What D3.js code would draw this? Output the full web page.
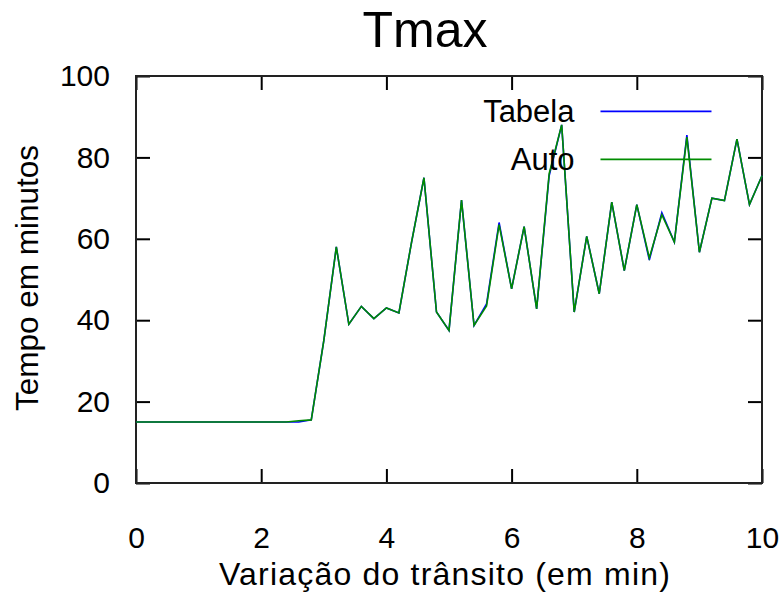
<!DOCTYPE html>
<html>
<head>
<meta charset="utf-8">
<script src="https://cdn.jsdelivr.net/npm/d3@7"></script>
<style>
  body { margin: 0; background: #fff; }
  text { font-family: "Liberation Sans", Arial, sans-serif; fill: #000; }
</style>
</head>
<body>
<div id="chart"></div>
<script>
// x positions (variação do trânsito, em min)
var xs = [0, 0.2, 0.4, 0.6, 0.8, 1.0, 1.2, 1.4, 1.6, 1.8, 2.0, 2.2, 2.4, 2.6, 2.8, 3.0,
          3.2, 3.4, 3.6, 3.8, 4.0, 4.2, 4.4, 4.6, 4.8, 5.0, 5.2, 5.4, 5.6, 5.8, 6.0,
          6.2, 6.4, 6.6, 6.8, 7.0, 7.2, 7.4, 7.6, 7.8, 8.0, 8.2, 8.4, 8.6, 8.8, 9.0,
          9.2, 9.4, 9.6, 9.8, 10.0];

var tabela = [15, 15, 15, 15, 15, 15, 15, 15, 15, 15, 15, 15, 15, 15, 15.5, 35,
              58, 39, 43.4, 40.4, 43, 41.8, 59, 75, 42, 37.5, 69.5, 38.7, 44, 64, 47.7,
              63, 42.8, 75.5, 88, 42, 60.6, 46.5, 69, 52.2, 68.4, 54.8, 66.4, 59.2, 85.5, 56.7,
              70, 69.4, 84.5, 68.4, 75.5];

var auto = [15, 15, 15, 15, 15, 15, 15, 15, 15, 15, 15, 15, 15, 15.3, 15.5, 35,
            58, 39, 43.4, 40.4, 43, 41.8, 59, 75, 42, 37.5, 69.5, 38.7, 43.5, 63.5, 47.7,
            63, 42.8, 76, 88, 42, 60.6, 46.5, 69, 52.2, 68.4, 55.3, 65.9, 59.2, 85, 56.7,
            70, 69.4, 84.5, 68.4, 75.5];

var xTicks = [0, 2, 4, 6, 8, 10];
var yTicks = [0, 20, 40, 60, 80, 100];

var series = [
  {name: "Tabela", values: tabela, color: "#0000ff"},
  {name: "Auto", values: auto, color: "#008c00"}
];

var W = 782, H = 597;
var margin = {top: 76, right: 20, bottom: 114, left: 136};
var width = W - margin.left - margin.right;
var height = H - margin.top - margin.bottom;

var svg = d3.select("#chart").append("svg")
  .attr("width", W)
  .attr("height", H);

var g = svg.append("g")
  .attr("transform", `translate(${margin.left}, ${margin.top})`);

var x = d3.scaleLinear().domain([0, 10]).range([0, width]);
var y = d3.scaleLinear().domain([0, 100]).range([height, 0]);

// ticks pointing inwards on all four sides
function styleAxis(sel) {
  sel.select(".domain").remove();
  sel.selectAll(".tick line").attr("stroke", "#000").attr("stroke-width", 2);
  sel.selectAll("text").style("font-size", "30px").attr("fill", "#000");
}

g.append("g")
  .attr("transform", `translate(0, ${height})`)
  .call(d3.axisBottom(x).tickValues(xTicks).tickSize(-14).tickPadding(44).tickFormat(d3.format("d")))
  .call(styleAxis);

g.append("g")
  .call(d3.axisTop(x).tickValues(xTicks).tickSize(-14).tickFormat(""))
  .call(styleAxis);

g.append("g")
  .call(d3.axisLeft(y).tickValues(yTicks).tickSize(-14).tickPadding(26).tickFormat(d3.format("d")))
  .call(styleAxis);

g.append("g")
  .attr("transform", `translate(${width}, 0)`)
  .call(d3.axisRight(y).tickValues(yTicks).tickSize(-14).tickFormat(""))
  .call(styleAxis);

// frame
g.append("rect")
  .attr("width", width)
  .attr("height", height)
  .attr("fill", "none")
  .attr("stroke", "#222")
  .attr("stroke-width", 2);

// lines
var line = d3.line()
  .x((d, i) => x(xs[i]))
  .y(d => y(d));

g.selectAll(".series")
  .data(series)
  .join("path")
  .attr("class", "series")
  .attr("fill", "none")
  .attr("stroke", d => d.color)
  .attr("stroke-width", 1.6)
  .attr("d", d => line(d.values));

// legend
var legend = g.append("g")
  .attr("transform", `translate(${x(7.42)}, ${y(91.3)})`);

var item = legend.selectAll("g")
  .data(series)
  .join("g")
  .attr("transform", (d, i) => `translate(0, ${i * 48})`);

item.append("text")
  .attr("x", -26)
  .attr("dy", "0.35em")
  .attr("text-anchor", "end")
  .style("font-size", "31px")
  .text(d => d.name);

item.append("line")
  .attr("x1", 0)
  .attr("x2", 111)
  .attr("stroke", d => d.color)
  .attr("stroke-width", 1.6);

// title and axis labels
svg.append("text")
  .attr("x", 425)
  .attr("y", 47)
  .attr("text-anchor", "middle")
  .style("font-size", "50px")
  .text("Tmax");

svg.append("text")
  .attr("x", 445)
  .attr("y", 585)
  .attr("text-anchor", "middle")
  .style("font-size", "32px")
  .style("letter-spacing", "1.2px")
  .text("Variação do trânsito (em min)");

svg.append("text")
  .attr("transform", "translate(38, 278) rotate(-90)")
  .attr("text-anchor", "middle")
  .style("font-size", "31.5px")
  .text("Tempo em minutos");
</script>
</body>
</html>
